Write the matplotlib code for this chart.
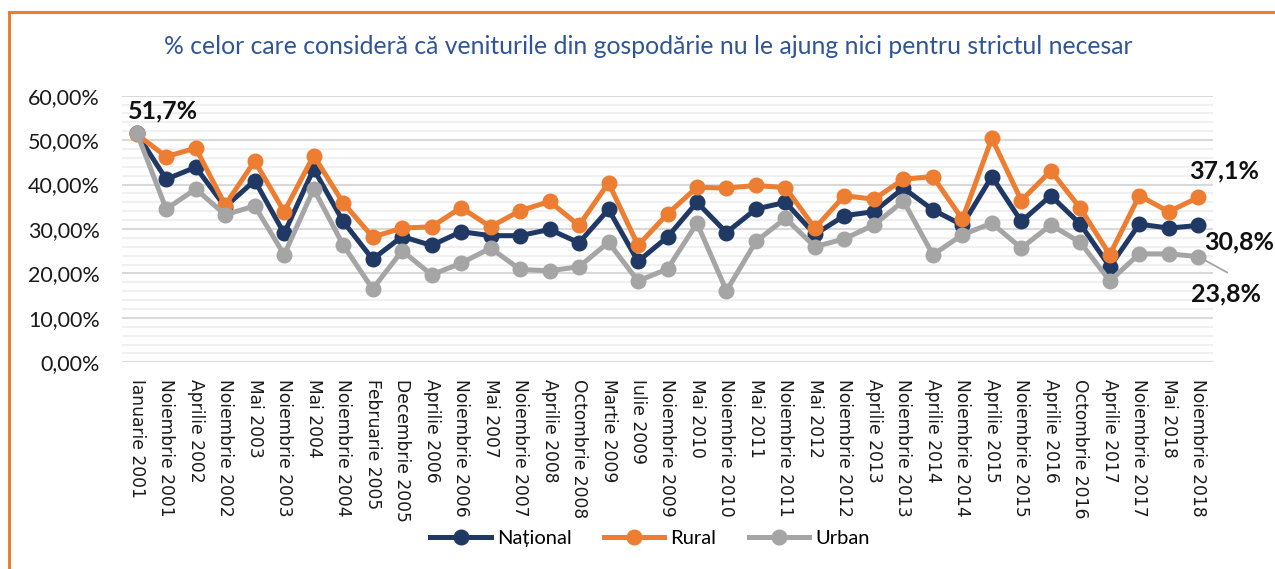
import matplotlib
matplotlib.use("Agg")
import matplotlib.pyplot as plt
from matplotlib.patches import Rectangle
from matplotlib.ticker import MultipleLocator, FuncFormatter

categories = ["Ianuarie 2001", "Noiembrie 2001", "Aprilie 2002", "Noiembrie 2002", "Mai 2003",
              "Noiembrie 2003", "Mai 2004", "Noiembrie 2004", "Februarie 2005", "Decembrie 2005",
              "Aprilie 2006", "Noiembrie 2006", "Mai 2007", "Noiembrie 2007", "Aprilie 2008",
              "Octombrie 2008", "Martie 2009", "Iulie 2009", "Noiembrie 2009", "Mai 2010",
              "Noiembrie 2010", "Mai 2011", "Noiembrie 2011", "Mai 2012", "Noiembrie 2012",
              "Aprilie 2013", "Noiembrie 2013", "Aprilie 2014", "Noiembrie 2014", "Aprilie 2015",
              "Noiembrie 2015", "Aprilie 2016", "Octombrie 2016", "Aprilie 2017", "Noiembrie 2017",
              "Mai 2018", "Noiembrie 2018"]

national = [51.5, 41.2, 43.9, 35.0, 40.9, 29.0, 43.5, 31.7, 23.2, 28.3,
            26.3, 29.4, 28.5, 28.5, 29.9, 26.9, 34.4, 22.7, 28.2, 36.0,
            29.2, 34.5, 36.0, 28.8, 33.0, 33.9, 39.2, 34.3, 30.9, 41.8,
            31.7, 37.5, 31.1, 21.5, 31.1, 30.2, 30.8]
rural = [51.3, 46.3, 48.2, 35.4, 45.3, 33.9, 46.5, 35.9, 28.2, 30.2,
         30.5, 34.8, 30.5, 34.1, 36.2, 30.8, 40.4, 26.3, 33.4, 39.4,
         39.2, 39.8, 39.3, 30.2, 37.5, 36.7, 41.2, 41.8, 32.2, 50.4,
         36.4, 43.1, 34.7, 24.2, 37.5, 33.9, 37.1]
urban = [51.7, 34.5, 39.0, 33.2, 35.2, 24.2, 39.0, 26.4, 16.5, 25.1,
         19.7, 22.3, 25.7, 20.9, 20.6, 21.5, 27.0, 18.3, 21.0, 31.3,
         16.1, 27.2, 32.4, 26.0, 27.8, 30.9, 36.3, 24.2, 28.7, 31.3,
         25.7, 30.9, 27.0, 18.3, 24.4, 24.4, 23.8]

title = "% celor care consideră că veniturile din gospodărie nu le ajung nici pentru strictul necesar"

C_NAT = "#203864"
C_RUR = "#ED7D31"
C_URB = "#A5A5A5"

plt.rcParams['font.family'] = ['Lato', 'DejaVu Sans']

fig = plt.figure(figsize=(12.75, 5.69), dpi=100)
ax = fig.add_axes([122/1275, 1-362.3/569, (1213-122)/1275, (362.3-95.7)/569])

x = list(range(len(categories)))
lw = 3.6
ms = 10.5
ax.plot(x, national, color=C_NAT, lw=lw, marker='o', ms=ms, label="Național", zorder=3)
ax.plot(x, rural, color=C_RUR, lw=lw, marker='o', ms=ms, label="Rural", zorder=4)
ax.plot(x, urban, color=C_URB, lw=lw, marker='o', ms=ms, label="Urban", zorder=5)

ax.set_xlim(-0.5, len(categories) - 0.5)
ax.set_ylim(0, 60)
ax.yaxis.set_major_locator(MultipleLocator(10))
ax.yaxis.set_minor_locator(MultipleLocator(2))
ax.yaxis.set_major_formatter(FuncFormatter(lambda v, p: f"{v:.2f}".replace('.', ',') + "%"))
ax.grid(which='major', axis='y', color='#D9D9D9', lw=1.5, zorder=0)
ax.grid(which='minor', axis='y', color='#F0F0F0', lw=1.5, zorder=0)
ax.set_axisbelow(True)
for s in ax.spines.values():
    s.set_visible(False)
ax.tick_params(axis='both', which='both', length=0)
ax.tick_params(axis='y', labelsize=15.5, pad=16, labelcolor='#1a1a1a')
ax.set_xticks(x)
ax.set_xticklabels(categories, rotation=270, fontsize=12.3, family='DejaVu Sans', color='#1a1a1a')
ax.tick_params(axis='x', pad=12)

# Data labels
lab_kw = dict(textcoords='offset points', ha='center', va='center', fontsize=18,
              fontweight='bold', color='#111111', zorder=6)
ax.annotate("51,7%", xy=(0, urban[0]), xytext=(18.7, 15.7), **lab_kw)
ax.annotate("37,1%", xy=(36, rural[36]), xytext=(18.7, 19.2), **lab_kw)
ax.annotate("30,8%", xy=(36, national[36]), xytext=(29.5, -11.7), annotation_clip=False, **lab_kw)
ax.annotate("23,8%", xy=(36, urban[36]), xytext=(20.2, -26.9), annotation_clip=False, **lab_kw)
ax.annotate("", xy=(36, urban[36]), xytext=(20.9, -11.5), textcoords='offset points',
            arrowprops=dict(arrowstyle='-', color=C_URB, lw=1.3, shrinkA=0, shrinkB=5.5),
            annotation_clip=False)

fig.text(648/1275, 1-47/569, title, ha='center', va='center', fontsize=17.8, color='#2F5597')

leg = fig.legend(loc='center', bbox_to_anchor=(650/1275, 1-538/569), ncol=3, frameon=False,
                 fontsize=14.5, handlelength=3.0, columnspacing=1.6, handletextpad=0.3)

# Orange frame
fig.patches.append(Rectangle((9/1275, -0.05), 1.1, 1-12/569+0.05, transform=fig.transFigure,
                             fill=False, edgecolor='#ED7D31', lw=2.2, zorder=0))

fig.savefig("out.png", dpi=100)
